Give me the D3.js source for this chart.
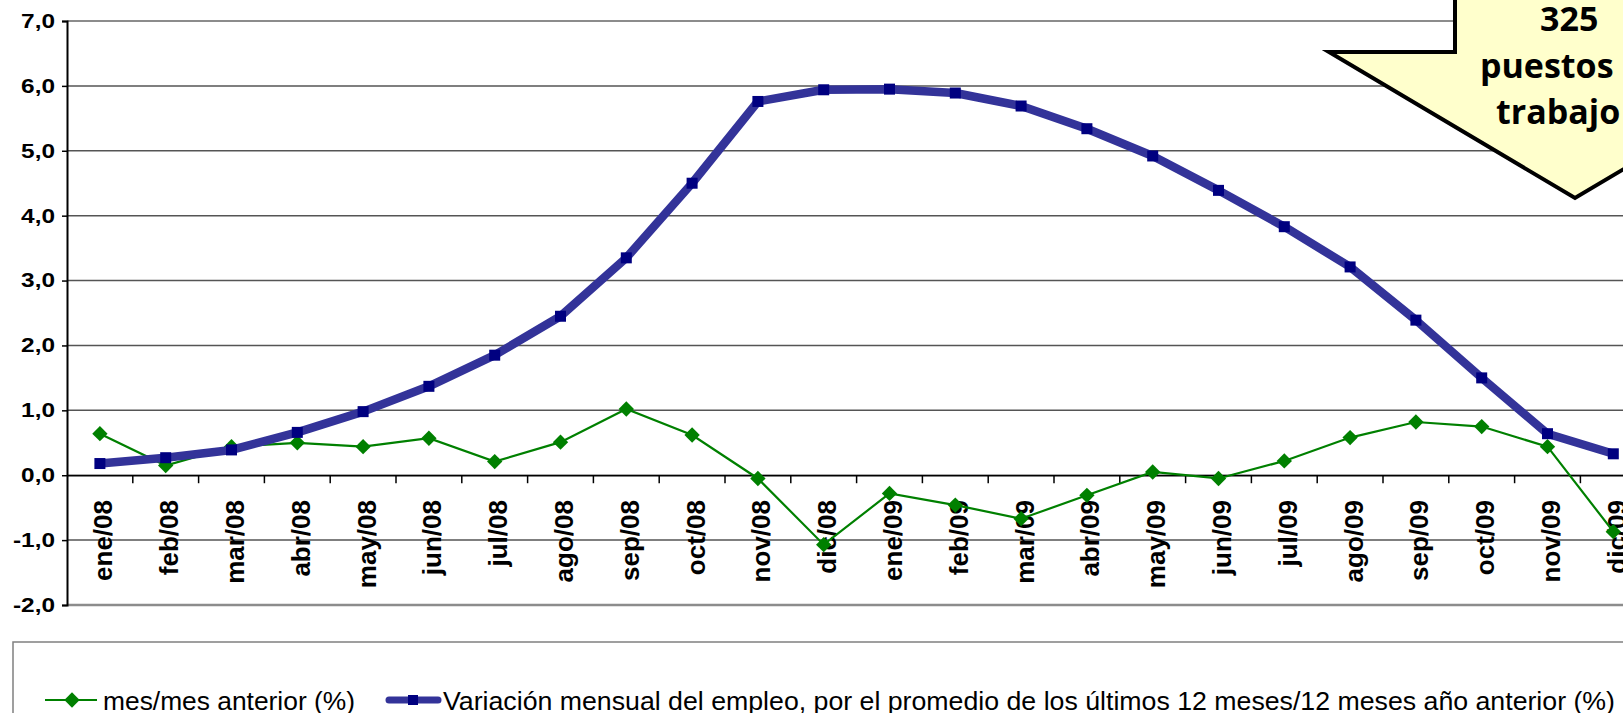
<!DOCTYPE html>
<html>
<head>
<meta charset="utf-8">
<script src="https://cdn.jsdelivr.net/npm/d3@7"></script>
<style>
  body { margin: 0; background: #fff; }
  svg { display: block; }
  text { font-family: "Liberation Sans", Arial, sans-serif; }
</style>
</head>
<body>
<svg id="chart" width="1623" height="713"></svg>
<script>
// categories (months)
var months = ['ene/08', 'feb/08', 'mar/08', 'abr/08', 'may/08', 'jun/08',
              'jul/08', 'ago/08', 'sep/08', 'oct/08', 'nov/08', 'dic/08',
              'ene/09', 'feb/09', 'mar/09', 'abr/09', 'may/09', 'jun/09',
              'jul/09', 'ago/09', 'sep/09', 'oct/09', 'nov/09', 'dic/09'];

// mes/mes anterior (%)
var monthly = [0.64, 0.15, 0.44, 0.50, 0.44, 0.57, 0.21, 0.51, 1.02, 0.62, -0.05, -1.07,
               -0.28, -0.46, -0.67, -0.31, 0.05, -0.05, 0.22, 0.58, 0.82, 0.75, 0.44, -0.87];

// promedio ultimos 12 meses / 12 meses año anterior (%)
var avg12 = [0.18, 0.27, 0.39, 0.66, 0.98, 1.37, 1.85, 2.45, 3.35, 4.50, 5.76, 5.94,
             5.95, 5.89, 5.69, 5.34, 4.92, 4.39, 3.83, 3.21, 2.39, 1.50, 0.64, 0.33];

var yTicks = [-2, -1, 0, 1, 2, 3, 4, 5, 6, 7];

var legendNames = ['mes/mes anterior (%)',
    'Variación mensual del empleo, por el promedio de los últimos 12 meses/12 meses año anterior (%)'];

var calloutLines = ['325', 'puestos', 'trabajo'];

var svg = d3.select('#chart');
var W = 1623;

var x = d3.scaleBand()
    .domain(months)
    .range([67, 67 + 24 * 65.8]);

var y = d3.scaleLinear()
    .domain([-2, 7])
    .range([605, 21]);

function fmt(v) {
    return d3.format('.1f')(v).replace('.', ',').replace('−', '-');
}

// gridlines
svg.append('g').selectAll('line')
    .data(yTicks)
  .enter().append('line')
    .attr('x1', 67)
    .attr('x2', W)
    .attr('y1', function(d) { return y(d); })
    .attr('y2', function(d) { return y(d); })
    .attr('stroke', function(d) { return (d === 7 || d === -2) ? '#8c8c8c' : '#555'; })
    .attr('stroke-width', function(d) { return d === -2 ? 2.5 : (d === 7 ? 2 : 1.5); });

// y axis
var yAxis = d3.axisLeft(y).tickValues(yTicks).tickSize(5).tickFormat(fmt);
var gy = svg.append('g')
    .attr('transform', 'translate(67,0)')
    .call(yAxis);
gy.select('.domain').attr('stroke', '#000').attr('stroke-width', 2);
gy.selectAll('.tick line').attr('stroke', '#000').attr('stroke-width', 1.5);
gy.selectAll('.tick text')
    .attr('x', -12)
    .attr('fill', '#000')
    .style('font-size', '20px')
    .style('font-weight', 'bold')
    .style('font-family', '"Liberation Sans", Arial, sans-serif')
    .each(function() {
        var len = this.getComputedTextLength();
        d3.select(this).attr('textLength', len * 1.22).attr('lengthAdjust', 'spacingAndGlyphs');
    });

// x axis at zero
var xAxis = d3.axisBottom(x).tickSize(0).tickFormat('');
var gx = svg.append('g')
    .attr('transform', 'translate(0,' + y(0) + ')')
    .call(xAxis);
gx.select('.domain').attr('stroke', '#000').attr('stroke-width', 1.5);

// ticks between categories
svg.append('g').selectAll('line')
    .data(months.slice(1))
  .enter().append('line')
    .attr('x1', function(d) { return x(d); })
    .attr('x2', function(d) { return x(d); })
    .attr('y1', y(0))
    .attr('y2', y(0) + 8)
    .attr('stroke', '#000')
    .attr('stroke-width', 1.5);

// month labels, rotated
svg.append('g').selectAll('text')
    .data(months)
  .enter().append('text')
    .attr('transform', function(d) {
        return 'translate(' + (x(d) + x.bandwidth() / 2) + ',500) rotate(-90)';
    })
    .attr('text-anchor', 'end')
    .attr('dy', '0.48em')
    .style('font-size', '26px')
    .style('font-weight', 'bold')
    .text(function(d) { return d; });

function cx(d, i) { return x(months[i]) + x.bandwidth() / 2; }

// green series
var lineG = d3.line()
    .x(function(d, i) { return cx(d, i); })
    .y(function(d) { return y(d); });

svg.append('path')
    .datum(monthly)
    .attr('d', lineG)
    .attr('fill', 'none')
    .attr('stroke', '#008000')
    .attr('stroke-width', 2.2);

var diamond = d3.symbol().type(d3.symbolDiamond2).size(150);
svg.append('g').selectAll('path')
    .data(monthly)
  .enter().append('path')
    .attr('d', diamond)
    .attr('transform', function(d, i) { return 'translate(' + cx(d, i) + ',' + y(d) + ')'; })
    .attr('fill', '#008000');

// blue series
svg.append('path')
    .datum(avg12)
    .attr('d', lineG)
    .attr('fill', 'none')
    .attr('stroke', '#333399')
    .attr('stroke-width', 8.5)
    .attr('stroke-linejoin', 'round');

svg.append('g').selectAll('rect')
    .data(avg12)
  .enter().append('rect')
    .attr('x', function(d, i) { return cx(d, i) - 5.5; })
    .attr('y', function(d) { return y(d) - 5.5; })
    .attr('width', 11)
    .attr('height', 11)
    .attr('fill', '#000080');

// callout arrow
var callout = [[1455, -10], [1455, 52], [1329, 52], [1575, 198], [1821, 52], [1695, 52], [1695, -10]];
svg.append('path')
    .attr('d', d3.line()(callout) + 'Z')
    .attr('fill', '#ffffcc')
    .attr('stroke', '#000')
    .attr('stroke-width', 4)
    .attr('stroke-linejoin', 'miter');

var calloutX = [1540, 1480, 1496];
var calloutY = [31, 78, 124];
svg.append('g').selectAll('text')
    .data(calloutLines)
  .enter().append('text')
    .attr('x', function(d, i) { return calloutX[i]; })
    .attr('y', function(d, i) { return calloutY[i]; })
    .style('font-family', '"Open Sans", sans-serif')
    .style('font-size', '34px')
    .style('font-weight', 'bold')
    .attr('fill', '#000')
    .text(function(d) { return d; });

// legend
svg.append('rect')
    .attr('x', 13)
    .attr('y', 642)
    .attr('width', 1700)
    .attr('height', 100)
    .attr('fill', 'none')
    .attr('stroke', '#808080')
    .attr('stroke-width', 1.5);

var lg = svg.append('g');
lg.append('line')
    .attr('x1', 45).attr('x2', 97).attr('y1', 700).attr('y2', 700)
    .attr('stroke', '#008000').attr('stroke-width', 2.2);
lg.append('path')
    .attr('d', diamond)
    .attr('transform', 'translate(72,700)')
    .attr('fill', '#008000');
lg.append('line')
    .attr('x1', 389).attr('x2', 438).attr('y1', 700).attr('y2', 700)
    .attr('stroke', '#333399').attr('stroke-width', 7).attr('stroke-linecap', 'round');
lg.append('rect')
    .attr('x', 408).attr('y', 695).attr('width', 10).attr('height', 10)
    .attr('fill', '#000080');

var legendX = [103, 443];
var legendW = [252, 1172];
lg.selectAll('text')
    .data(legendNames)
  .enter().append('text')
    .attr('x', function(d, i) { return legendX[i]; })
    .attr('y', 710)
    .attr('textLength', function(d, i) { return legendW[i]; })
    .attr('lengthAdjust', 'spacingAndGlyphs')
    .style('font-size', '25px')
    .text(function(d) { return d; });
</script>
</body>
</html>
